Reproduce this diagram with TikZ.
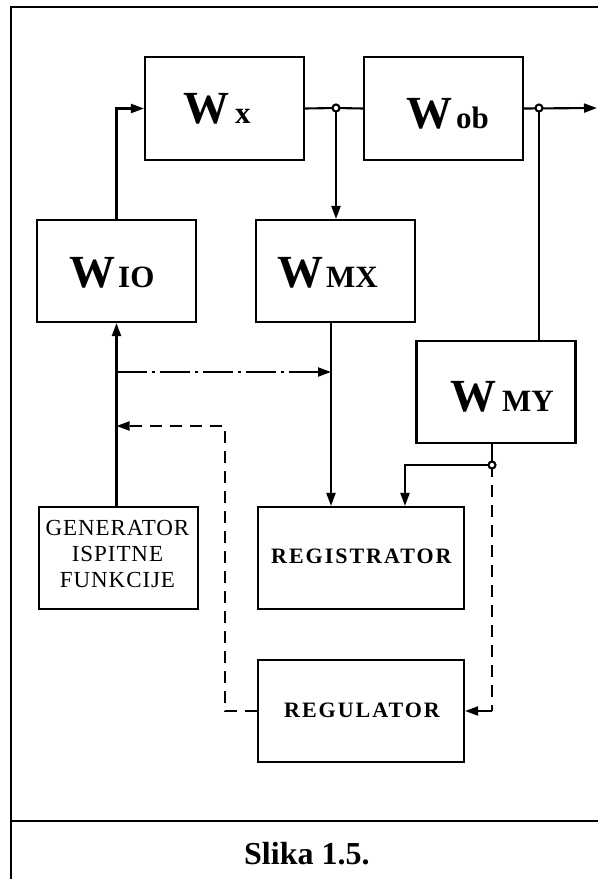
\documentclass[tikz,border=0pt]{standalone}
\usepackage{fontspec}
\setmainfont{Liberation Serif}
\newfontfamily\lsA[LetterSpace=9]{Liberation Serif}
\newfontfamily\lsB[LetterSpace=4]{Liberation Serif}
\usetikzlibrary{arrows.meta,calc}
\newcommand\Wlab[2]{{\fontsize{46}{46}\selectfont\bfseries W}\kern#1{\fontsize{31}{31}\selectfont\bfseries #2}}
\begin{document}
\begin{tikzpicture}[x=1pt,y=-1pt,
  blk/.style={draw,line width=2.1pt,minimum width=#1,minimum height=102pt,inner sep=0pt},
  blk/.default=159pt,
  lab/.style={inner sep=0pt,anchor=base west},
  glab/.style={inner sep=0pt,anchor=base},
  wire/.style={line width=2.1pt},
  arr/.style={-{Triangle[length=13pt,width=9pt]}},
  dsh/.style={dash pattern=on 12pt off 8pt},
  dashdot/.style={dash pattern=on 30pt off 5pt on 3pt off 5pt},
  jn/.style={circle,draw,fill=white,line width=2.1pt,minimum size=7pt,inner sep=0pt}]
\useasboundingbox (0,0) rectangle (598,879);
% frame
\draw[line width=1.8pt] (598,7) -- (11,7) -- (11,879);
\draw[line width=1.8pt] (11,821) -- (598,821);
% boxes
\node[blk,minimum height=103pt] (wx) at (224.5,108.5) {};
\node[blk,minimum height=103pt] (wob) at (443.5,108.5) {};
\node[blk] (wio) at (116.5,271) {};
\node[blk] (wmx) at (335.5,271) {};
\node[blk] (wmy) at (496,392) {};
\node[blk] (gen) at (118.5,558) {};
\node[blk=206pt] (reg) at (361,558) {};
\node[blk=206pt] (rgl) at (361,711) {};
% labels
\node[lab] (wxt) at (183,123) {\Wlab{6pt}{x}};
\node[lab] (wobt) at (406,128) {\Wlab{4pt}{ob}};
\node[lab] (wiot) at (69,287) {\Wlab{3pt}{IO}};
\node[lab] (wmxt) at (277,287) {\Wlab{3pt}{MX}};
\node[lab] (wmyt) at (450,411) {\Wlab{6pt}{MY}};
\node[glab] (gen1) at (117.5,535) {\fontsize{23}{23}\lsB GENERATOR};
\node[glab] (gen2) at (117.5,561) {\fontsize{23}{23}\lsB ISPITNE};
\node[glab] (gen3) at (117.5,587) {\fontsize{23}{23}\lsB FUNKCIJE};
\node[lab] (regt) at (271,563) {\fontsize{22}{22}\lsA\bfseries REGISTRATOR};
\node[lab] (rglt) at (284,717) {\fontsize{22}{22}\lsA\bfseries REGULATOR};
\node[lab] (cap) at (244,864) {\fontsize{32}{32}\selectfont\bfseries Slika 1.5.};
% coordinates
\coordinate (j1) at (336,108);
\coordinate (j2) at (539,108);
\coordinate (out) at (597,108);
\coordinate (j3) at (492,465);
\coordinate (mxb) at (331,322);
\coordinate (ddA) at (116.5,372);
\coordinate (ddB) at (331,372);
\coordinate (dsA) at (116.5,426);
\coordinate (dsC) at (225,426);
\coordinate (j3b) at (492,711);
\coordinate (r2) at (405,465);
% connectors
\draw[wire,arr] (wio.north) |- (wx.west);
\draw[wire] (wx.east) -- (j1) -- (wob.west);
\draw[wire,arr] (j1) -- (j1 |- wmx.north);
\draw[wire,arr] (wob.east) -- (out);
\draw[wire] (j2) -- (j2 |- wmy.north);
\draw[wire,arr] (wio.south |- gen.north) -- (wio.south);
\draw[wire,arr] (mxb) -- (mxb |- reg.north);
\draw[wire,arr,dashdot] (ddA) -- (ddB);
\draw[wire,arr,dsh] (rgl.west) -| (dsC) -- (dsA);
\draw[wire] (j3 |- wmy.south) -- (j3);
\draw[wire,arr] (j3) -| (r2 |- reg.north);
\draw[wire,dsh] (j3) -- (j3b);
\draw[wire,arr] (j3b) -- (rgl.east);
% junctions
\node[jn] (c1) at (j1) {};
\node[jn] (c2) at (j2) {};
\node[jn] (c3) at (j3) {};
\end{tikzpicture}
\end{document}
